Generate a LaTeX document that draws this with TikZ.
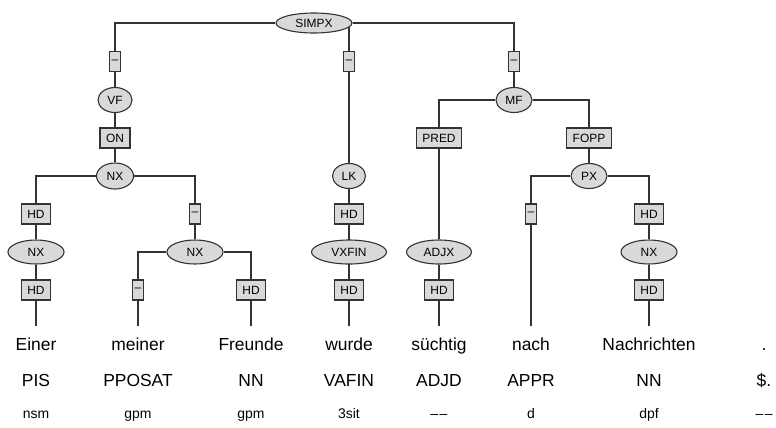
\documentclass[tikz,border=0pt]{standalone}
\usepackage{fontspec}
\setmainfont{Liberation Sans}
\usepackage{tikz}
\usetikzlibrary{shapes.geometric,backgrounds}

\definecolor{catfill}{gray}{0.85}
\definecolor{treeline}{gray}{0.2}

\tikzset{
  cat/.style={ellipse, draw=treeline, line width=1.1bp, fill=catfill, inner sep=1bp,
    minimum width=35bp, minimum height=25bp, font=\fontsize{12}{14}\selectfont},
  lab/.style={rectangle, draw=treeline, line width=1.1bp, fill=catfill, inner xsep=6bp,
    inner ysep=0bp, minimum height=20bp, font=\fontsize{12}{14}\selectfont},
  dashlab/.style={lab, inner xsep=2bp},
  word/.style={anchor=base, inner ysep=12bp, text height=12bp, text depth=3bp,
    font=\fontsize{17.5}{19}\selectfont},
  tag/.style={anchor=base, inner sep=0bp, font=\fontsize{17.5}{19}\selectfont},
  morph/.style={anchor=base, inner sep=0bp, font=\fontsize{14}{16}\selectfont},
  edge/.style={draw=treeline, line width=1.1bp}
}
\newcommand{\nomorph}{\textendash\kern1.5bp\textendash}

\begin{document}
\begin{tikzpicture}[x=1bp, y=-1bp]
  \useasboundingbox (0,0) rectangle (776,427);

  \node[cat, minimum width=76bp, minimum height=20bp] (simpx) at (314,23) {SIMPX};

  \node[dashlab] (l1) at (115,61.5) {--};
  \node[cat, minimum width=34bp] (vf) at (115,100) {VF};
  \node[lab] (l2) at (115,138) {ON};
  \node[cat, minimum width=37bp, minimum height=26bp] (nx1) at (115,176) {NX};
  \node[lab] (l3) at (36,214) {HD};
  \node[cat, minimum width=56bp, minimum height=24bp] (nx2) at (36,252) {NX};
  \node[lab] (l4) at (36,290) {HD};
  \node[dashlab] (l5) at (195,214) {--};
  \node[cat, minimum width=56bp, minimum height=24bp] (nx3) at (195,252) {NX};
  \node[dashlab] (l6) at (138,290) {--};
  \node[lab] (l7) at (251,290) {HD};

  \node[dashlab] (l8) at (349,61.5) {--};
  \node[cat, minimum width=33bp] (lk) at (349,176) {LK};
  \node[lab] (l9) at (349,214) {HD};
  \node[cat, minimum width=75bp, minimum height=24bp] (vxfin) at (349,252) {VXFIN};
  \node[lab] (l10) at (349,290) {HD};

  \node[dashlab] (l11) at (514,61.5) {--};
  \node[cat, minimum width=36bp] (mf) at (514,100) {MF};
  \node[lab] (l12) at (439,138) {PRED};
  \node[cat, minimum width=65bp, minimum height=24bp] (adjx) at (439,252) {ADJX};
  \node[lab] (l13) at (439,290) {HD};
  \node[lab] (l14) at (589,138) {FOPP};
  \node[cat, minimum width=36bp] (px) at (589,176) {PX};
  \node[dashlab] (l15) at (531,214) {--};
  \node[lab] (l16) at (649,214) {HD};
  \node[cat, minimum width=56bp, minimum height=24bp] (nx4) at (649,252) {NX};
  \node[lab] (l17) at (649,290) {HD};

  \foreach \x/\w/\p/\m [count=\i] in {36/Einer/PIS/nsm, 138/meiner/PPOSAT/gpm,
      251/Freunde/NN/gpm, 349/wurde/VAFIN/3sit, 439/süchtig/ADJD/\nomorph,
      531/nach/APPR/d, 649/Nachrichten/NN/dpf, 764/./\$./\nomorph} {
    \node[word] (w\i) at (\x,350) {\w};
    \node[tag] (p\i) at (\x,386) {\p};
    \node[morph] (m\i) at (\x,418) {\m};
  }

  \begin{scope}[on background layer]
    \draw[edge] (simpx) -| (vf);
    \draw[edge] (simpx -| lk) -- (lk);
    \draw[edge] (simpx) -| (mf);
    \draw[edge] (vf) -- (nx1);
    \draw[edge] (nx1) -| (nx2);
    \draw[edge] (nx1) -| (nx3);
    \draw[edge] (nx2) -- (w1.north);
    \draw[edge] (nx3) -| (w2.north);
    \draw[edge] (nx3) -| (w3.north);
    \draw[edge] (lk) -- (w4.north);
    \draw[edge] (mf) -| (adjx);
    \draw[edge] (adjx) -- (w5.north);
    \draw[edge] (mf) -| (px);
    \draw[edge] (px) -| (w6.north);
    \draw[edge] (px) -| (nx4);
    \draw[edge] (nx4) -- (w7.north);
  \end{scope}
\end{tikzpicture}
\end{document}
